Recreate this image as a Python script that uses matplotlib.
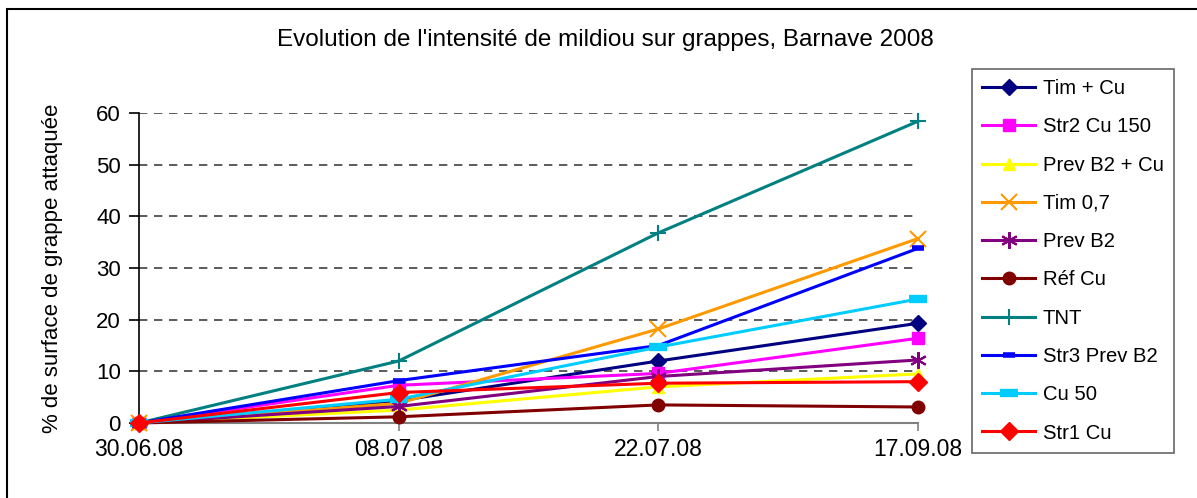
import numpy as np
import matplotlib.pyplot as plt
from matplotlib.patches import Rectangle

plt.rcParams['font.family'] = ['Liberation Sans', 'DejaVu Sans']

# Data
dates = ['30.06.08', '08.07.08', '22.07.08', '17.09.08']
series_names = ['Tim + Cu', 'Str2 Cu 150', 'Prev B2 + Cu', 'Tim 0,7', 'Prev B2',
                'Réf Cu', 'TNT', 'Str3 Prev B2', 'Cu 50', 'Str1 Cu']
tim_cu = [0, 4.3, 12.0, 19.3]
str2_cu150 = [0, 7.3, 9.6, 16.4]
prev_b2_cu = [0, 2.5, 7.0, 9.5]
tim_07 = [0, 3.8, 18.2, 35.7]
prev_b2 = [0, 3.2, 9.0, 12.2]
ref_cu = [0, 1.2, 3.5, 3.1]
tnt = [0, 12.0, 36.8, 58.4]
str3_prev_b2 = [0, 8.2, 15.0, 33.8]
cu_50 = [0, 4.6, 14.7, 24.0]
str1_cu = [0, 5.9, 7.7, 8.0]

values = [tim_cu, str2_cu150, prev_b2_cu, tim_07, prev_b2,
          ref_cu, tnt, str3_prev_b2, cu_50, str1_cu]
colors = ['#000080', '#FF00FF', '#FFFF00', '#FF9900', '#800080',
          '#800000', '#008080', '#0000FF', '#00CCFF', '#FF0000']
markers = ['D', 's', '^', 'x', (6, 2, 0), 'o', '+', '_', '_', 'D']
msizes = [8, 8, 9, 11, 12, 9, 12, 9, 13, 9]
mew = [1, 1, 1, 1.5, 1.5, 1, 1.5, 4, 6, 1]

fig = plt.figure(figsize=(11.97, 4.98), dpi=100)
ax = fig.add_axes([139 / 1197, 1 - 423 / 498, (918 - 139) / 1197, (423 - 113) / 498])

x = np.arange(len(dates))
for name, vals, c, m, ms, w in zip(series_names, values, colors, markers, msizes, mew):
    ax.plot(x, vals, color=c, marker=m, markersize=ms, markeredgewidth=w,
            markeredgecolor=c, markerfacecolor=c, linewidth=2.2, label=name,
            clip_on=False, zorder=3)

ax.set_xlim(0, 3)
ax.set_ylim(0, 60)
ax.set_xticks(x)
ax.set_xticklabels(dates, fontsize=16.5)
ax.set_yticks(np.arange(0, 61, 10))
ax.tick_params(axis='y', labelsize=16, direction='out', length=7, width=1.2, pad=6)
ax.tick_params(axis='x', direction='out', length=6, width=1.2, color='#808080', pad=5)
ax.yaxis.grid(True, linestyle=(0, (5, 4)), color='#404040', linewidth=1.2)
ax.set_axisbelow(True)
for s in ['top', 'right']:
    ax.spines[s].set_visible(False)
ax.spines['left'].set_linewidth(1.2)
ax.spines['bottom'].set_color('#808080')
ax.spines['bottom'].set_linewidth(1.5)

ax.set_ylabel('% de surface de grappe attaquée', fontsize=16, labelpad=24)
fig.text(605 / 1197, 1 - 40 / 498, "Evolution de l'intensité de mildiou sur grappes, Barnave 2008",
         fontsize=17.5, ha='center', va='center')

leg = fig.legend(loc='upper left', bbox_to_anchor=(972 / 1197, 1 - 69 / 498),
                 fontsize=14.6, frameon=True, fancybox=False, edgecolor='#404040',
                 handlelength=2.6, labelspacing=0.95, borderpad=0.5, handletextpad=0.4,
                 borderaxespad=0)
leg.get_frame().set_linewidth(1.2)

# outer chart border
fig.patches.append(Rectangle((7 / 1197, -0.1), 1.2, 1 - 9 / 498 + 0.1, transform=fig.transFigure,
                             fill=False, edgecolor='black', linewidth=1.5))

fig.savefig('out.png', dpi=100)
